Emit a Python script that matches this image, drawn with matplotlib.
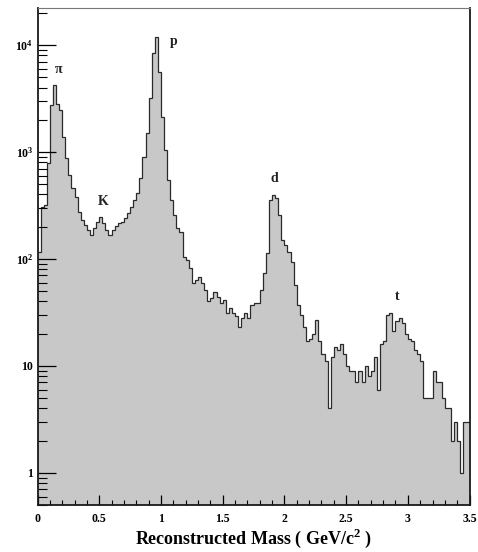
import numpy as np
import matplotlib
matplotlib.use("Agg")
import matplotlib.pyplot as plt
from matplotlib.ticker import FixedLocator, FixedFormatter, MultipleLocator, NullFormatter

# reconstructed mass spectrum, 140 bins of 0.025 GeV/c^2 from 0 to 3.5
mass_lo = 0.0
mass_hi = 3.5
counts = [
    116, 306, 320, 790, 2750, 4230, 2810, 2470, 1380, 880,
    610, 460, 380, 275, 231, 208, 187, 168, 195, 222,
    247, 217, 187, 168, 187, 203, 217, 222, 242, 269,
    306, 356, 414, 571, 898, 1506, 3200, 8420, 11880, 5590,
    2125, 1044, 547, 356, 258, 195, 179, 104, 98, 82,
    60, 64, 68, 60, 51, 40, 43, 49, 44, 39,
    41, 31, 35, 31, 29, 23, 28, 31, 28, 37,
    39, 39, 51, 74, 114, 356, 396, 372, 258, 151,
    135, 116, 94, 57, 37, 30, 23, 17, 18, 20,
    27, 17, 13, 11, 4, 12, 15, 14, 16, 13,
    10, 9, 9, 7, 9, 7, 10, 8, 9, 12,
    6, 16, 17, 30, 31, 21, 26, 28, 25, 20,
    18, 17, 14, 13, 11, 5, 5, 5, 9, 7,
    7, 5, 4, 4, 2, 3, 2, 1, 3, 3,
]

# particle labels and where they sit (mass, height of text baseline)
peak_names = ["\u03c0", "K", "p", "d", "t"]
peak_x = [0.175, 0.53, 1.10, 1.92, 2.91]
peak_y = [5100, 300, 9400, 490, 39]

ytick_vals = [1, 10, 100, 1000, 10000]
ytick_text = ["1", "10", r"$\mathbf{10^{2}}$", r"$\mathbf{10^{3}}$", r"$\mathbf{10^{4}}$"]

plt.rcParams["font.family"] = ["Liberation Serif", "DejaVu Serif"]
plt.rcParams["font.weight"] = "bold"
plt.rcParams["mathtext.fontset"] = "custom"
plt.rcParams["mathtext.rm"] = "Liberation Serif:bold"
plt.rcParams["mathtext.bf"] = "Liberation Serif:bold"

fig = plt.figure(figsize=(4.78, 5.52), dpi=100)
ax = fig.add_axes([0.0785, 0.0851, 0.9038, 0.9013])

edges = np.linspace(mass_lo, mass_hi, len(counts) + 1)
ax.stairs(counts, edges, baseline=0.4, fill=True, color="#c8c8c8")
ax.stairs(counts, edges, baseline=None, color="#2a2a2a", linewidth=0.9)

ax.set_yscale("log")
ax.set_xlim(mass_lo, mass_hi)
ax.set_ylim(0.5, 2.24e4)

ax.yaxis.set_major_locator(FixedLocator(ytick_vals))
ax.yaxis.set_major_formatter(FixedFormatter(ytick_text))
ax.yaxis.set_minor_locator(matplotlib.ticker.LogLocator(base=10, subs=np.arange(2, 10)))
ax.yaxis.set_minor_formatter(NullFormatter())
ax.xaxis.set_major_locator(MultipleLocator(0.5))
ax.xaxis.set_minor_locator(MultipleLocator(0.1))
ax.xaxis.set_major_formatter(matplotlib.ticker.FuncFormatter(lambda v, p: f"{v:g}"))

ax.tick_params(axis="y", which="major", direction="in", length=13, width=0.9,
               labelsize=8.5, pad=3, right=False)
ax.tick_params(axis="y", which="minor", direction="in", length=6.5, width=0.8, right=False)
ax.tick_params(axis="x", which="major", direction="in", length=7, width=0.9,
               labelsize=8.5, pad=6, top=False)
ax.tick_params(axis="x", which="minor", direction="in", length=3.5, width=0.8, top=False)

for side in ["left", "bottom", "right"]:
    ax.spines[side].set_color("#1a1a1a")
    ax.spines[side].set_linewidth(1.3)
ax.spines["top"].set_color("#777777")
ax.spines["top"].set_linewidth(0.8)

for name, xm, ym in zip(peak_names, peak_x, peak_y):
    ax.text(xm, ym, name, fontsize=10, ha="center", va="bottom", color="#222222")

ax.set_xlabel("Reconstructed Mass ( GeV/c$^{\\mathbf{2}}$ )", fontsize=13,
              fontweight="bold", labelpad=1)

fig.savefig("out.png", dpi=100)
